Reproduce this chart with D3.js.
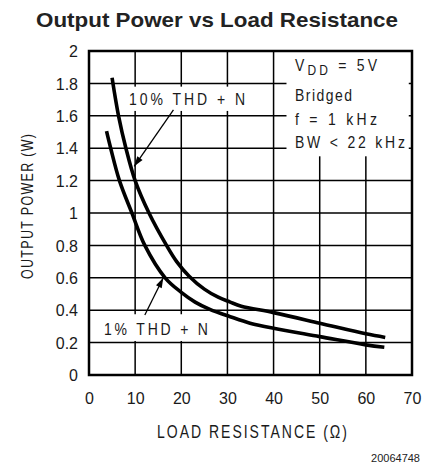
<!DOCTYPE html>
<html><head><meta charset="utf-8">
<script src="https://cdn.jsdelivr.net/npm/d3@7"></script>
<style>body{margin:0;background:#fff}svg{display:block}</style>
</head><body>
<svg id="c" width="431" height="468"></svg>
<script>
const title = "Output Power vs Load Resistance";
const xTicks = [0,10,20,30,40,50,60,70];
const yTicks = [0,0.2,0.4,0.6,0.8,1,1.2,1.4,1.6,1.8,2];
const xLabel = "LOAD RESISTANCE (\u03A9)";
const yLabel = "OUTPUT POWER (W)";
const docId = "20064748";
// 10% THD+N curve: load (ohm), power (W)
const r10 = [5, 6.4, 8.0, 10, 13, 16.8, 19, 21.7, 25, 28, 30.6, 33, 40, 50, 60, 64.2];
const p10 = [1.835, 1.6, 1.4, 1.2, 1.0, 0.8, 0.7, 0.61, 0.53, 0.48, 0.45, 0.425, 0.385, 0.32, 0.254, 0.232];
// 1% THD+N curve
const r1 = [3.8, 4.7, 6.6, 9.3, 12.1, 16.5, 20, 23, 26.2, 30.6, 34.9, 40, 50, 60, 64];
const p1 = [1.505, 1.4, 1.2, 1.0, 0.8, 0.6, 0.51, 0.45, 0.405, 0.36, 0.32, 0.288, 0.237, 0.186, 0.171];
const condLines = ["Bridged", "f = 1 kHz", "BW < 22 kHz"];

const svg = d3.select("#c");
const L = 89, R = 412, T = 51, B = 375;
const x = d3.scaleLinear().domain([0,70]).range([L,R]);
const y = d3.scaleLinear().domain([0,2]).range([B,T]);
const font = "'Liberation Sans', Arial, sans-serif";
const ink = "#1a1a1a";

// tall, narrow "plotter" style text
function ptext(parent, px, py, str, size, len, rot, sy){
  const t = parent.append("text")
    .attr("transform", `translate(${px},${py})${rot?" rotate(-90)":""} scale(1,${sy||1.2})`)
    .attr("font-family",font).attr("font-size",size).attr("fill",ink)
    .attr("textLength",len).attr("lengthAdjust","spacing");
  if (str != null) t.text(str);
  return t;
}

svg.append("text").attr("x",36).attr("y",26.5)
  .attr("font-family",font).attr("font-weight","bold")
  .attr("font-size",20.5).attr("fill","#222")
  .attr("textLength",362).attr("lengthAdjust","spacingAndGlyphs").text(title);

// grid
const g = svg.append("g");
g.selectAll("line.v").data(xTicks.slice(1,-1)).join("line")
  .attr("x1",d=>x(d)).attr("x2",d=>x(d)).attr("y1",T).attr("y2",B)
  .attr("stroke","#000").attr("stroke-width",1.5);
g.selectAll("line.h").data(yTicks.slice(1,-1)).join("line")
  .attr("y1",d=>y(d)).attr("y2",d=>y(d)).attr("x1",L).attr("x2",R)
  .attr("stroke","#000").attr("stroke-width",1.5);

// white boxes behind annotations
svg.append("rect").attr("x",x(42.8)).attr("y",T+1).attr("width",x(69.3)-x(42.8)).attr("height",y(1.35)-T-1).attr("fill","#fff");
svg.append("rect").attr("x",x(7.8)).attr("y",y(1.78)).attr("width",x(34.8)-x(7.8)).attr("height",y(1.63)-y(1.78)).attr("fill","#fff");
svg.append("rect").attr("x",x(1.7)).attr("y",y(0.375)).attr("width",x(27.5)-x(1.7)).attr("height",y(0.21)-y(0.375)).attr("fill","#fff");

// curves
const line = d3.line().x(d=>x(d[0])).y(d=>y(d[1])).curve(d3.curveCatmullRom.alpha(0.5));
const c10 = r10.map((r,i)=>[r,p10[i]]);
const c1 = r1.map((r,i)=>[r,p1[i]]);
[c10,c1].forEach(c=>svg.append("path").attr("d",line(c)).attr("fill","none")
  .attr("stroke","#000").attr("stroke-width",3.6));

// border
svg.append("rect").attr("x",L).attr("y",T).attr("width",R-L).attr("height",B-T)
  .attr("fill","none").attr("stroke","#000").attr("stroke-width",2.5);

// axes tick labels
const xa = d3.axisBottom(x).tickValues(xTicks).tickSize(0).tickPadding(0).tickFormat(d3.format("d"));
const xg = svg.append("g").attr("transform",`translate(0,${B})`).call(xa);
xg.select(".domain").remove();
xg.selectAll("text").attr("dy",0).attr("y",29).attr("font-family",font).attr("font-size",16).attr("fill",ink);
const ya = d3.axisLeft(y).tickValues(yTicks).tickSize(0).tickPadding(0).tickFormat(d=>String(d));
const yg = svg.append("g").attr("transform",`translate(${L-11},0)`).call(ya);
yg.select(".domain").remove();
yg.selectAll("text").attr("x",0).attr("dy","0.36em").attr("font-family",font).attr("font-size",16).attr("fill",ink);

ptext(svg, 157, 438, xLabel, 14, 190, false, 1.25);
ptext(svg, 32.5, 279, yLabel, 12.5, 145, true, 1.35);
svg.append("text").attr("x",420).attr("y",462).attr("text-anchor","end")
  .attr("font-family",font).attr("font-size",11).attr("fill","#222").text(docId);

// annotations
ptext(svg, 129, 104.5, "10% THD + N", 14, 116, false);
ptext(svg, 104, 335, "1% THD + N", 14, 104, false);

function arrow(x1,y1,x2,y2){
  svg.append("line").attr("x1",x1).attr("y1",y1).attr("x2",x2).attr("y2",y2)
    .attr("stroke","#000").attr("stroke-width",1.3);
  const a = Math.atan2(y2-y1,x2-x1), len=10, w=3.2;
  const bx = x2-len*Math.cos(a), by = y2-len*Math.sin(a);
  const px = -Math.sin(a)*w, py = Math.cos(a)*w;
  svg.append("path").attr("d",`M${x2},${y2}L${bx+px},${by+py}L${bx-px},${by-py}Z`).attr("fill","#000");
}
arrow(x(18.3),y(1.636),x(9.8),y(1.288));
arrow(x(12.1),y(0.37),x(16.1),y(0.6));

// conditions legend
const vt = ptext(svg, 295, 71, null, 14, 82, false);
vt.append("tspan").text("V");
vt.append("tspan").attr("font-size",12).attr("dy",3.5).text("DD");
vt.append("tspan").attr("dy",-3.5).text(" = 5V");
const widths = [57, 82, 110];
const baselines = [101, 125, 147.5];
condLines.forEach((s,i)=>ptext(svg, 295, baselines[i], s, 14, widths[i], false));
</script>
</body></html>
